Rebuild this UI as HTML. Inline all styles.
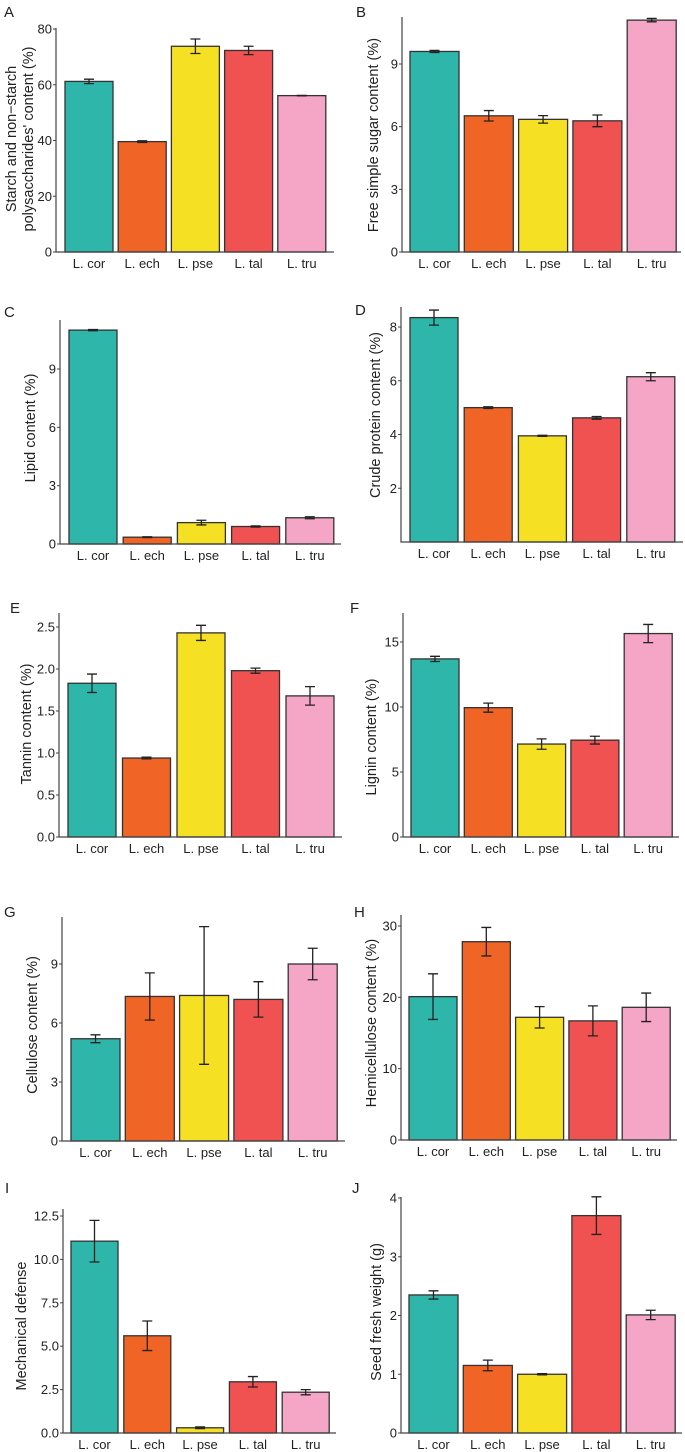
<!DOCTYPE html>
<html><head><meta charset="utf-8"><style>
html,body{margin:0;padding:0;background:#fff;}
svg{display:block;font-family:"Liberation Sans",Arial,sans-serif;}
</style></head><body>
<svg id="fig" width="685" height="1452" viewBox="0 0 685 1452"></svg>
<script>
const categories=["L. cor","L. ech","L. pse","L. tal","L. tru"];
const colors=["#2fb6aa","#f06426","#f6e024","#ef5251","#f5a6c6"];
const valA=[61.2,39.6,73.8,72.3,56.1], errA=[0.8,0.3,2.6,1.5,0.1], ticksA=[0,20,40,60,80];
const valB=[9.6,6.52,6.35,6.28,11.1], errB=[0.05,0.25,0.18,0.28,0.08], ticksB=[0,3,6,9];
const valC=[11.0,0.35,1.1,0.9,1.35], errC=[0.03,0.02,0.12,0.03,0.05], ticksC=[0,3,6,9];
const valD=[8.35,5.0,3.95,4.62,6.15], errD=[0.28,0.03,0.02,0.05,0.15], ticksD=[2,4,6,8];
const valE=[1.83,0.94,2.43,1.98,1.68], errE=[0.11,0.01,0.09,0.03,0.11], ticksE=["0.0","0.5","1.0","1.5","2.0","2.5"];
const valF=[13.7,9.95,7.15,7.45,15.65], errF=[0.2,0.35,0.4,0.3,0.7], ticksF=[0,5,10,15];
const valG=[5.2,7.35,7.4,7.2,9.0], errG=[0.2,1.2,3.5,0.9,0.8], ticksG=[0,3,6,9];
const valH=[20.1,27.8,17.2,16.7,18.6], errH=[3.2,2.0,1.5,2.1,2.0], ticksH=[0,10,20,30];
const valI=[11.05,5.6,0.3,2.95,2.35], errI=[1.2,0.85,0.05,0.3,0.15], ticksI=["0.0","2.5","5.0","7.5","10.0","12.5"];
const valJ=[2.35,1.15,1.0,3.7,2.01], errJ=[0.07,0.09,0.01,0.32,0.08], ticksJ=[0,1,2,3,4];

const NS="http://www.w3.org/2000/svg";
const svg=document.getElementById('fig');
function el(tag,attrs,parent){const e=document.createElementNS(NS,tag);for(const k in attrs)e.setAttribute(k,attrs[k]);(parent||svg).appendChild(e);return e;}

const panels=[
 {id:"a",letter:"A",lx:4,ly:17,ax:56,x1:334,y0:252,top:28,tickV:80,tickY:29,ylab:["Starch and non−starch","polysaccharides' content (%)"],ylx:[16,33],yly:139,bx0:65,bw:48,bs:53.2,vals:valA,errs:errA,ticks:ticksA},
 {id:"b",letter:"B",lx:356,ly:17,ax:402,x1:681,y0:252,top:17,tickV:9,tickY:64,ylab:["Free simple sugar content (%)"],ylx:[378],yly:135,bx0:410,bw:49,bs:54.3,vals:valB,errs:errB,ticks:ticksB},
 {id:"c",letter:"C",lx:4,ly:317,ax:60,x1:341,y0:544,top:320,tickV:9,tickY:369,ylab:["Lipid content (%)"],ylx:[35],yly:428,bx0:69,bw:48,bs:54.2,vals:valC,errs:errC,ticks:ticksC},
 {id:"d",letter:"D",lx:355,ly:315,ax:401,x1:683,y0:542,top:307,tickV:8,tickY:327,ylab:["Crude protein content (%)"],ylx:[380],yly:415,bx0:410,bw:48,bs:54.2,vals:valD,errs:errD,ticks:ticksD},
 {id:"e",letter:"E",lx:10,ly:613,ax:59,x1:342,y0:837,top:613,tickV:2.5,tickY:627,ylab:["Tannin content (%)"],ylx:[31],yly:724,bx0:68,bw:48,bs:54.5,vals:valE,errs:errE,ticks:ticksE},
 {id:"f",letter:"F",lx:350,ly:613,ax:403,x1:679,y0:837,top:613,tickV:15,tickY:642,ylab:["Lignin content (%)"],ylx:[376],yly:737,bx0:411,bw:48,bs:53.3,vals:valF,errs:errF,ticks:ticksF},
 {id:"g",letter:"G",lx:4,ly:917,ax:62,x1:345,y0:1141,top:917,tickV:9,tickY:964,ylab:["Cellulose content (%)"],ylx:[37],yly:1025,bx0:71,bw:49,bs:54.3,vals:valG,errs:errG,ticks:ticksG},
 {id:"h",letter:"H",lx:354,ly:917,ax:401,x1:677,y0:1140,top:915,tickV:30,tickY:926,ylab:["Hemicellulose content (%)"],ylx:[376],yly:1023,bx0:409,bw:48,bs:53.3,vals:valH,errs:errH,ticks:ticksH},
 {id:"i",letter:"I",lx:5,ly:1193,ax:63,x1:336,y0:1433,top:1209,tickV:12.5,tickY:1216,ylab:["Mechanical defense"],ylx:[26],yly:1326,bx0:71,bw:47,bs:52.8,vals:valI,errs:errI,ticks:ticksI},
 {id:"j",letter:"J",lx:352,ly:1193,ax:401,x1:682,y0:1433,top:1197,tickV:4,tickY:1198,ylab:["Seed fresh weight (g)"],ylx:[381],yly:1312,bx0:409,bw:49,bs:54.3,vals:valJ,errs:errJ,ticks:ticksJ}
];

panels.forEach(p=>{
  const g=el('g',{});
  
  
  const sc=(p.y0-p.tickY)/p.tickV;
  const y=v=>p.y0-v*sc;
  const t=el('text',{x:p.lx,y:p.ly,'font-size':15,fill:'#222'},g);t.textContent=p.letter;
  
  p.vals.forEach((v,i)=>{
    const x=p.bx0+i*p.bs;
    const r=el('rect',{x:x,y:y(v),width:p.bw,height:p.y0-y(v),fill:colors[i],stroke:'#333','stroke-width':1.3},g);
    
    const cx=x+p.bw/2,e=p.errs[i];
    const eb=el('path',{d:`M${cx},${y(v+e)}V${y(v-e)}M${cx-5},${y(v+e)}H${cx+5}M${cx-5},${y(v-e)}H${cx+5}`,stroke:'#222','stroke-width':1.3,fill:'none'},g);
    
    const xl=el('text',{x:cx,y:p.y0+16,'font-size':13,'text-anchor':'middle',fill:'#222'},g);xl.textContent=categories[i];
    
  });
  const ax=el('path',{d:`M${p.ax},${p.top}V${p.y0}H${p.x1}`,stroke:'#444','stroke-width':1.2,fill:'none'},g);
  
  p.ticks.forEach(tk=>{
    const v=parseFloat(tk);
    el('line',{x1:p.ax-3,x2:p.ax,y1:y(v),y2:y(v),stroke:'#444','stroke-width':1},g);
    const tl=el('text',{x:p.ax-4,y:y(v)+4.5,'font-size':13,'text-anchor':'end',fill:'#222'},g);tl.textContent=tk;
    
  });
  p.ylab.forEach((s,k)=>{
    const yl=el('text',{x:p.ylx[k],y:p.yly,'font-size':14.5,'text-anchor':'middle',fill:'#222',transform:`rotate(-90 ${p.ylx[k]} ${p.yly})`},g);
    yl.textContent=s;
    
  });
});
</script>
</body></html>
